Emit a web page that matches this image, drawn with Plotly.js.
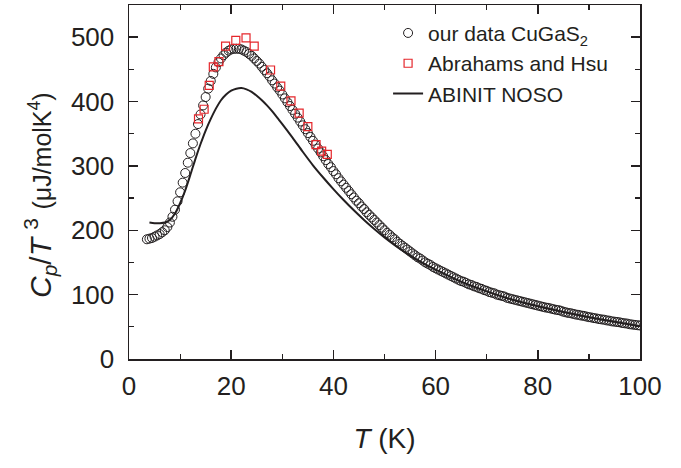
<!DOCTYPE html>
<html>
<head>
<meta charset="utf-8">
<script src="https://cdn.plot.ly/plotly-3.0.1.min.js"></script>
<style>html,body{margin:0;padding:0;background:#fff;}#chart{width:681px;height:468px;}</style>
</head>
<body>
<div id="chart"></div>
<script>
// our data CuGaS2 (open circles)
var ourT = [3.5,4.0,4.5,5.0,5.5,6.0,6.5,7.0,7.5,8.0,8.5,9.0,9.5,10.0,10.5,11.0,11.5,12.0,12.5,13.0,
13.5,14.0,14.5,15.0,15.5,16.0,16.5,17.0,17.5,18.0,18.5,19.0,19.5,20.0,20.5,21.0,21.5,22.0,22.5,23.0,
23.5,24.0,24.5,25.0,25.5,26.0,26.5,27.0,27.5,28.0,28.5,29.0,29.5,30.0,30.5,31.0,31.5,32.0,32.5,33.0,
33.5,34.0,34.5,35.0,35.5,36.0,36.5,37.0,37.5,38.0,38.5,39.0,39.5,40.0,40.5,41.0,41.5,42.0,42.5,43.0,
43.5,44.0,44.5,45.0,45.5,46.0,46.5,47.0,47.5,48.0,48.5,49.0,49.5,50.0,50.5,51.0,51.5,52.0,52.5,53.0,
53.5,54.0,54.5,55.0,55.5,56.0,56.5,57.0,57.5,58.0,58.5,59.0,59.5,60.0,60.5,61.0,61.5,62.0,62.5,63.0,
63.5,64.0,64.5,65.0,65.5,66.0,66.5,67.0,67.5,68.0,68.5,69.0,69.5,70.0,70.5,71.0,71.5,72.0,72.5,73.0,
73.5,74.0,74.5,75.0,75.5,76.0,76.5,77.0,77.5,78.0,78.5,79.0,79.5,80.0,80.5,81.0,81.5,82.0,82.5,83.0,
83.5,84.0,84.5,85.0,85.5,86.0,86.5,87.0,87.5,88.0,88.5,89.0,89.5,90.0,90.5,91.0,91.5,92.0,92.5,93.0,
93.5,94.0,94.5,95.0,95.5,96.0,96.5,97.0,97.5,98.0,98.5,99.0,99.5,100.0];
var ourCp = [186,187,188,190,192,194,197,200,205,212,221,232,245,259,274,289,305,320,335,350,
365,380,394,407,420,432,443,453,461,467,472,476,479,481,482,482,482,481,479,477,
474,471,467,463,459,454,449,444,439,433,428,422,417,411,405,399,393,387,381,375,
369,363,357,351,345,339,333,327,321,315,309,303,298,292,287,281,276,271,266,261,
256,251,246,242,237,233,228,224,220,216,212,208,204,200,196,193,189,186,182,179,
176,173,170,167,164,161,158,156,153,150,148,146,143,141,139,137,135,133,131,129,
127,125,123,121,120,118,116,115,113,112,110,109,107,106,104,103,102,100,99,98,
97,95,94,93,92,91,90,89,88,87,86,85,84,83,82,81,80,79.5,78.5,77.5,
76.5,76,75,73.5,72.5,71.5,71,70,69,68.5,67.5,67,66,65,64.5,63.5,63,62,61.5,61,
60,59.5,58.5,58,57.5,57,56,55.5,55,54,53.5,53,52.5,52];

// Abrahams and Hsu (open red squares)
var ahT  = [13.6,14.7,15.7,16.5,17.6,18.9,20.9,22.9,24.5,27.7,29.7,31.7,33.3,35.0,36.6,37.7,38.8];
var ahCp = [373,388,425,454,462,486,495,499,486,449,424,401,382,361,333,323,318];

// ABINIT NOSO (solid line)
var abT  = [4,5,6,7,8,9,10,11,12,13,14,15,16,17,18,19,20,21,22,23,24,25,26,27,28,29,30,32,34,36,38,40,42,44,46,48,50,52,54,56,58,60,65,70,75,80,85,90,95,100];
var abCp = [212,211,211,212,216,226,242,262,286,311,334,355,373,389,402,411,417,420,421,419,415,409,402,394,385,375,365,344,322,301,282,264,247,231,216,202,189,177,166,156,147,139,120,105,92,82,73,65,58,51];

var xTickVals = [0,20,40,60,80,100];
var yTickVals = [0,100,200,300,400,500];

var FONT = "Liberation Sans, Arial, Helvetica, sans-serif";
var INK = "#231f20";

var traces = [
  {x: ourT, y: ourCp, type: "scatter", mode: "markers", name: "our data CuGaS<sub>2</sub>",
   marker: {symbol: "circle-open", size: 9, color: INK, line: {width: 1, color: INK}}},
  {x: ahT, y: ahCp, type: "scatter", mode: "markers", name: "Abrahams and Hsu",
   marker: {symbol: "square-open", size: 8, color: "#e5262b", line: {width: 1.2, color: "#e5262b"}}},
  {x: abT, y: abCp, type: "scatter", mode: "lines", name: "ABINIT NOSO",
   line: {color: INK, width: 2, shape: "spline", smoothing: 0.8}}
];

var axisCommon = {
  showgrid: false, zeroline: false, showline: true, linecolor: INK, linewidth: 1.5,
  mirror: "ticks", ticks: "inside", ticklen: 9, tickwidth: 1.5, tickcolor: INK,
  tickfont: {family: FONT, size: 26, color: INK},
  minor: {ticks: "inside", ticklen: 5, tickwidth: 1.2, tickcolor: INK, showgrid: false}
};

var layout = {
  width: 681, height: 468,
  margin: {l: 129, r: 41, t: 5, b: 109},
  paper_bgcolor: "#ffffff", plot_bgcolor: "#ffffff",
  font: {family: FONT, color: INK},
  showlegend: true,
  legend: {x: 0.507, y: 0.978, xanchor: "left", yanchor: "top", bgcolor: "rgba(0,0,0,0)",
           font: {family: FONT, size: 21, color: INK}, tracegroupgap: 0},
  xaxis: Object.assign({}, axisCommon, {
    range: [0, 100], tickvals: xTickVals, ticktext: xTickVals.map(String),
    minor: Object.assign({}, axisCommon.minor, {dtick: 10}),
    ticklabelstandoff: 3,
    title: {text: "<i>T</i> (K)", font: {family: FONT, size: 28, color: INK}, standoff: 28}
  }),
  yaxis: Object.assign({}, axisCommon, {
    range: [0, 550], tickvals: yTickVals, ticktext: yTickVals.map(String),
    minor: Object.assign({}, axisCommon.minor, {dtick: 50}),
    ticklabelstandoff: 8
  }),
  annotations: [{
    text: "<i>C</i><sub><i>p</i></sub>/<i>T</i> <sup>3</sup> <span style=\"font-size:25px\">(μJ/molK<sup>4</sup>)</span>",
    font: {family: FONT, size: 30, color: INK},
    textangle: -90, showarrow: false,
    xref: "paper", yref: "paper",
    x: (40 - 129) / 511, y: (359 - 195) / 354,
    xanchor: "center", yanchor: "middle"
  }]
};

Plotly.newPlot("chart", traces, layout, {displayModeBar: false, staticPlot: true});
</script>
</body>
</html>
